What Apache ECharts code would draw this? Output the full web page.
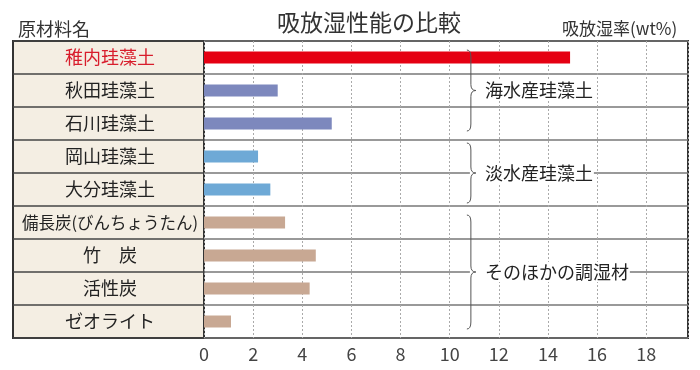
<!DOCTYPE html>
<html><head><meta charset="utf-8">
<script src="https://cdn.jsdelivr.net/npm/echarts@6/dist/echarts.min.js"></script>
<style>html,body{margin:0;padding:0;background:#fff}#c{width:700px;height:370px}</style>
</head><body><div id="c"></div>
<script>
const categories = ['稚内珪藻土','秋田珪藻土','石川珪藻土','岡山珪藻土','大分珪藻土','備長炭(びんちょうたん)','竹　炭','活性炭','ゼオライト'];
const values = [14.9, 3.0, 5.2, 2.2, 2.7, 3.3, 4.55, 4.3, 1.1];
const barColors = ['#e50012','#7d88bd','#7d88bd','#6ea9d6','#6ea9d6','#c8a893','#c8a893','#c8a893','#c8a893'];
const xTicks = [0,2,4,6,8,10,12,14,16,18];
const groupNames = ['海水産珪藻土','淡水産珪藻土','そのほかの調湿材'];
const groupStart = [0,3,5];
const groupEnd = [2,4,8];

const FONT = '"Noto Sans CJK JP", "Noto Sans", sans-serif';
const chart = echarts.init(document.getElementById('c'), null, {renderer:'canvas'});
const braceInset = [9,3,9];

chart.setOption({
  animation:false,
  textStyle:{fontFamily:FONT},
  title:[
    {text:'吸放湿性能の比較', left:364, top:6, textAlign:'center',
     textStyle:{fontSize:23, fontWeight:'normal', color:'#333', fontFamily:FONT}},
    {text:'原材料名', left:13, top:15,
     textStyle:{fontSize:18, fontWeight:'normal', color:'#333', fontFamily:FONT}},
    {text:'吸放湿率(wt%)', left:557, top:15,
     textStyle:{fontSize:17, fontWeight:'normal', color:'#333', fontFamily:FONT}}
  ],
  grid:[
    {left:13, top:41, width:191, height:297, show:true, backgroundColor:'#f4eee3', borderColor:'#333', borderWidth:2},
    {left:204, top:41, width:484, height:297, show:true, backgroundColor:'#fff', borderColor:'#333', borderWidth:2}
  ],
  xAxis:[
    {gridIndex:0, type:'value', min:0, max:1, show:false},
    {gridIndex:1, type:'value', min:0, max:19.7, interval:2,
     axisLine:{show:false}, axisTick:{show:false},
     axisLabel:{showMaxLabel:false, color:'#444', fontSize:18, margin:7, fontFamily:FONT,
       formatter:v => xTicks.indexOf(v) >= 0 ? String(v) : ''},
     splitLine:{show:true, lineStyle:{color:'#aaa', type:[2,2], width:1}}}
  ],
  yAxis:[
    {gridIndex:0, type:'category', data:categories, inverse:true,
     axisLine:{show:false}, axisTick:{show:false}, axisLabel:{show:false},
     splitLine:{show:true, lineStyle:{color:'#444', width:1.5}}},
    {gridIndex:1, type:'category', data:categories, inverse:true,
     axisLine:{show:false}, axisTick:{show:false},
     axisLabel:{margin:94, align:'center', fontFamily:FONT,
       formatter:(v, i) => i === 0 ? '{r|'+v+'}' : (v.length > 6 ? '{s|'+v+'}' : '{a|'+v+'}'),
       rich:{
         r:{fontSize:18, color:'#d81d2c', fontFamily:FONT},
         a:{fontSize:18, color:'#222', fontFamily:FONT},
         s:{fontSize:16.5, color:'#222', fontFamily:FONT}
       }},
     splitLine:{show:true, lineStyle:{color:'#777', width:1.5}}}
  ],
  series:[
    {type:'bar', xAxisIndex:1, yAxisIndex:1, barWidth:12,
     data:values.map((v,i)=>({value:v, itemStyle:{color:barColors[i]}}))},
    {type:'custom', xAxisIndex:1, yAxisIndex:1, z:10,
     data:groupNames.map((n,i)=>[10.7, groupStart[i], groupEnd[i], i]),
     renderItem:(params, api) => {
       const gi = api.value(3);
       const band = api.size([0,1])[1];
       const p0 = api.coord([api.value(0), api.value(1)]);
       const p1 = api.coord([api.value(0), api.value(2)]);
       const x = p0[0];
       const ins = braceInset[gi];
       const yT = p0[1] - band/2 + ins;
       const yB = p1[1] + band/2 - ins;
       const ym = (p0[1] + p1[1]) / 2;
       const d = `M${x},${yT} Q${x+4},${yT} ${x+4},${yT+7} L${x+4},${ym-6} Q${x+4},${ym} ${x+9},${ym} Q${x+4},${ym} ${x+4},${ym+6} L${x+4},${yB-7} Q${x+4},${yB} ${x},${yB}`;
       return {type:'group', children:[
         {type:'text', style:{text:groupNames[gi], x:x+3, y:ym, verticalAlign:'middle', align:'left',
           font:'18px '+FONT, fill:'#222', backgroundColor:'#fff', padding:[1,1,1,15]}},
         {type:'path', shape:{pathData:d}, style:{fill:null, stroke:'#555', lineWidth:1}}
       ]};
     }}
  ]
});
</script></body></html>
